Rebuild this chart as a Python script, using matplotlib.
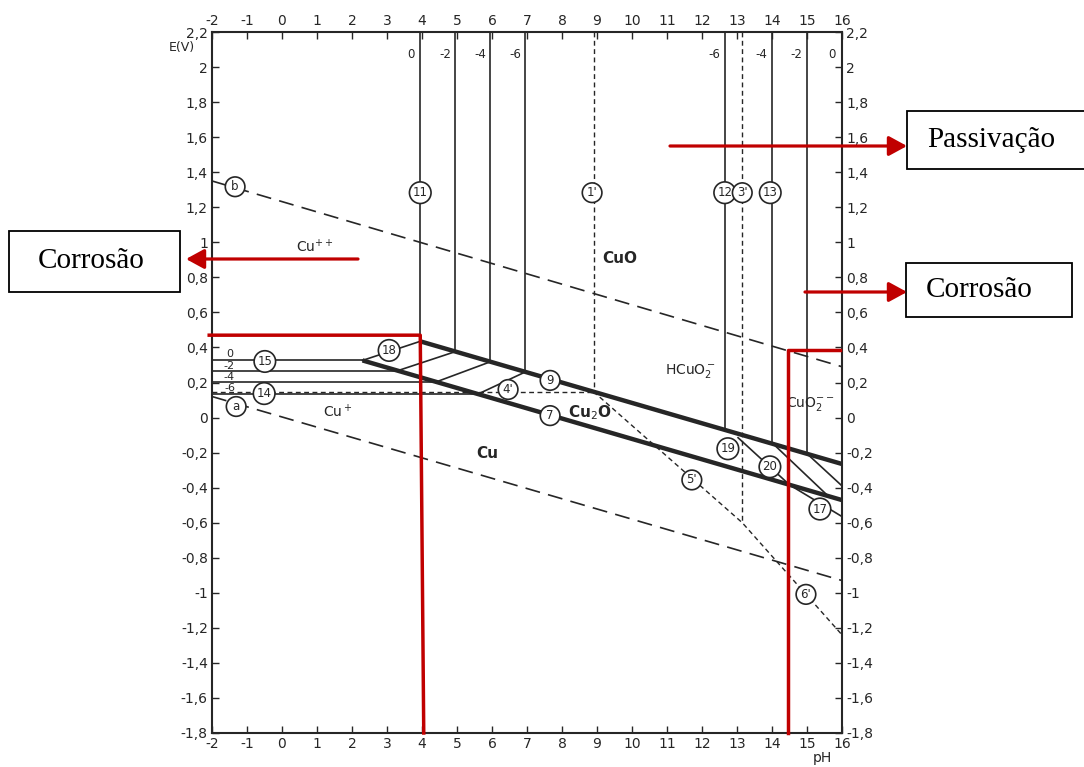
import matplotlib
matplotlib.use("Agg", force=True)
import matplotlib.pyplot as plt
from matplotlib.patches import Rectangle, FancyArrowPatch

# ---- data (pH, E in V) ----
ph_ticks = [-2, -1, 0, 1, 2, 3, 4, 5, 6, 7, 8, 9, 10, 11, 12, 13, 14, 15, 16]
ph_ticklabels = ['-2', '-1', '0', '1', '2', '3', '4', '5', '6', '7', '8', '9',
                 '10', '11', '12', '13', '14', '15', '16']
e_ticks = [2.2, 2.0, 1.8, 1.6, 1.4, 1.2, 1.0, 0.8, 0.6, 0.4, 0.2, 0.0,
           -0.2, -0.4, -0.6, -0.8, -1.0, -1.2, -1.4, -1.6, -1.8]
e_ticklabels = ['2,2', '2', '1,8', '1,6', '1,4', '1,2', '1', '0,8', '0,6', '0,4', '0,2', '0',
                '-0,2', '-0,4', '-0,6', '-0,8', '-1', '-1,2', '-1,4', '-1,6', '-1,8']

# water lines (dashed)
line_b_ph, line_b_e = [-2, 16], [1.35, 0.29]
line_a_ph, line_a_e = [-2, 16], [0.12, -0.93]

# thick boundaries: Cu2O/CuO (9) and Cu/Cu2O (7)
upper_ph, upper_e = [3.95, 16], [0.435, -0.265]
lower_ph, lower_e = [2.3, 16], [0.326, -0.471]

# Cu++ / Cu horizontals (log c = 0, -2, -4, -6)
horiz_e = [0.326, 0.267, 0.203, 0.134]
horiz_end_ph = [2.3, 3.3, 4.4, 5.6]
# Cu++ / Cu2O diagonals (18 family) ending on the Cu2O/CuO line
diag_top_ph = [3.95, 4.95, 5.95, 6.95]
diag_top_e = [0.435, 0.376, 0.318, 0.26]
conc_left = ['0', '-2', '-4', '-6']
conc_left_e = [0.362, 0.292, 0.234, 0.167]

# CuO / HCuO2- / CuO2-- verticals on the right
right_vert_ph = [12.65, 14.0, 15.0]
right_vert_bottom_e = [-0.069, -0.148, -0.206]
conc_right = ['-6', '-4', '-2', '0']
conc_right_ph = [12.65, 14.0, 15.0, 16.0]

# thin lines in the alkaline band
l19_ph, l19_e = [13.03, 14.5], [-0.115, -0.384]
l20_ph, l20_e = [14.05, 15.6], [-0.153, -0.447]
l21_ph, l21_e = [15.0, 16.0], [-0.206, -0.39]
l17_ph, l17_e = [14.5, 16.0], [-0.384, -0.565]

# metastable (dashed) lines 1', 3', 4', 5'/6'
v1p_ph, v1p_e = [8.9, 8.9], [2.2, 0.148]
v3p_ph, v3p_e = [13.15, 13.15], [2.2, -0.60]
h4p_ph, h4p_e = [-2, 8.9], [0.148, 0.148]
d56_ph, d56_e = [8.9, 13.15, 16.0], [0.148, -0.60, -1.24]

# circled labels
circ_text = ['b', 'a', '11', "1'", '12', "3'", '13', '15', '14', '18', "4'", '9', '7',
             "5'", "6'", '19', '20', '17']
circ_ph = [-1.34, -1.31, 3.95, 8.86, 12.65, 13.15, 13.95, -0.49, -0.51, 3.06, 6.46, 7.66, 7.66,
           11.71, 14.97, 12.74, 13.94, 15.37]
circ_e = [1.317, 0.063, 1.283, 1.283, 1.283, 1.283, 1.283, 0.32, 0.137, 0.383, 0.16, 0.212, 0.011,
          -0.356, -1.009, -0.178, -0.281, -0.522]

# species labels
species = ['Cu$^{++}$', 'CuO', 'HCuO$_2^-$', 'Cu$_2$O', 'Cu', 'Cu$^+$', 'CuO$_2^{--}$']
species_ph = [0.94, 9.66, 11.66, 8.8, 5.86, 1.6, 15.1]
species_e = [0.975, 0.905, 0.263, 0.028, -0.207, 0.034, 0.08]
species_bold = [False, True, False, True, True, False, False]

# red corrosion limits
red_left_ph, red_left_e = [-2.08, 3.95, 4.05], [0.47, 0.47, -1.8]
red_right_ph, red_right_e = [15.95, 14.46, 14.46], [0.385, 0.385, -1.8]

ink = '#262626'
red = '#c00000'

W, H = 1084, 767
fig = plt.figure(figsize=(W / 100, H / 100), dpi=100)
ax = fig.add_axes([212 / W, 1 - 733 / H, 630 / W, 701 / H])
ax.set_xlim(-2, 16)
ax.set_ylim(-1.8, 2.2)

ax.set_xticks(ph_ticks)
ax.set_xticklabels(ph_ticklabels)
ax.set_yticks(e_ticks)
ax.set_yticklabels(e_ticklabels)
ax.tick_params(direction='in', top=True, right=True, labeltop=True, labelright=True,
               length=5, width=1.0, color=ink, labelcolor=ink, labelsize=10, pad=3)
for s in ax.spines.values():
    s.set_linewidth(1.5)
    s.set_color(ink)

# water lines
ax.plot(line_b_ph, line_b_e, color=ink, lw=1.2, dashes=(9, 5))
ax.plot(line_a_ph, line_a_e, color=ink, lw=1.2, dashes=(9, 5))

# thick lines
ax.plot(upper_ph, upper_e, color=ink, lw=3.2, solid_capstyle='butt')
ax.plot(lower_ph, lower_e, color=ink, lw=3.2, solid_capstyle='butt')

# horizontals, diagonals and verticals on the acid side
for e, xend, xt, et in zip(horiz_e, horiz_end_ph, diag_top_ph, diag_top_e):
    ax.plot([-2, xend], [e, e], color=ink, lw=1.2)
    ax.plot([xend, xt], [e, et], color=ink, lw=1.2)
    ax.plot([xt, xt], [2.2, et], color=ink, lw=1.2)

for lab, e in zip(conc_left, conc_left_e):
    ax.text(-1.5, e, lab, fontsize=8, ha='center', va='center', color=ink)
for lab, xt in zip(conc_left, diag_top_ph):
    ax.text(xt - 0.28, 2.07, lab, fontsize=8.5, ha='center', va='center', color=ink)

# alkaline side
for x, eb in zip(right_vert_ph, right_vert_bottom_e):
    ax.plot([x, x], [2.2, eb], color=ink, lw=1.2)
for lab, x in zip(conc_right, conc_right_ph):
    ax.text(x - 0.3, 2.07, lab, fontsize=8.5, ha='center', va='center', color=ink)

for xs, es in [(l19_ph, l19_e), (l20_ph, l20_e), (l21_ph, l21_e), (l17_ph, l17_e)]:
    ax.plot(xs, es, color=ink, lw=1.2)

# metastable lines
for xs, es in [(v1p_ph, v1p_e), (v3p_ph, v3p_e), (h4p_ph, h4p_e), (d56_ph, d56_e)]:
    ax.plot(xs, es, color=ink, lw=1.0, dashes=(3.5, 2.5))

# circled numbers
for t, x, e in zip(circ_text, circ_ph, circ_e):
    ax.text(x, e, t, fontsize=8.5, ha='center', va='center', color=ink, zorder=5,
            bbox=dict(boxstyle='circle,pad=0.28', fc='white', ec=ink, lw=1.2))

# species
for t, x, e, b in zip(species, species_ph, species_e, species_bold):
    ax.text(x, e, t, fontsize=11 if b else 10, ha='center', va='center', color=ink,
            fontweight='bold' if b else 'normal')

fig.text(182 / W, 1 - 47 / H, 'E(V)', fontsize=9, ha='center', va='center', color=ink)
fig.text(822 / W, 1 - 758 / H, 'pH', fontsize=10, ha='center', va='center', color=ink)

# red corrosion limits
ax.plot(red_left_ph, red_left_e, color=red, lw=2.5, clip_on=False, zorder=6)
ax.plot(red_right_ph, red_right_e, color=red, lw=2.5, clip_on=False, zorder=6)


# ---- annotation boxes and arrows (figure pixels, y from the top) ----
def fpt(x, y):
    return (x / W, 1 - y / H)


def box(x0, y0, x1, y1, text, tx):
    fig.patches.append(Rectangle(fpt(x0, y1), (x1 - x0) / W, (y1 - y0) / H,
                                 transform=fig.transFigure, fc='white', ec='black', lw=1.3))
    fig.text(tx / W, 1 - ((y0 + y1) / 2) / H, text, fontsize=21, family='Liberation Serif',
             ha='left', va='center', color='black')


def arrow(x0, x1, y):
    fig.patches.append(FancyArrowPatch(fpt(x0, y), fpt(x1, y), transform=fig.transFigure,
                                       arrowstyle='-|>,head_length=11,head_width=6',
                                       color=red, lw=2.3, shrinkA=0, shrinkB=0))


box(907, 111, 1090, 169, 'Passivação', 927)
box(906, 263, 1072, 317, 'Corrosão', 926)
box(9, 231, 180, 292, 'Corrosão', 38)
arrow(670, 907, 146)
arrow(805, 907, 292)
arrow(358, 186, 259)

fig.savefig('out.png', dpi=100)
